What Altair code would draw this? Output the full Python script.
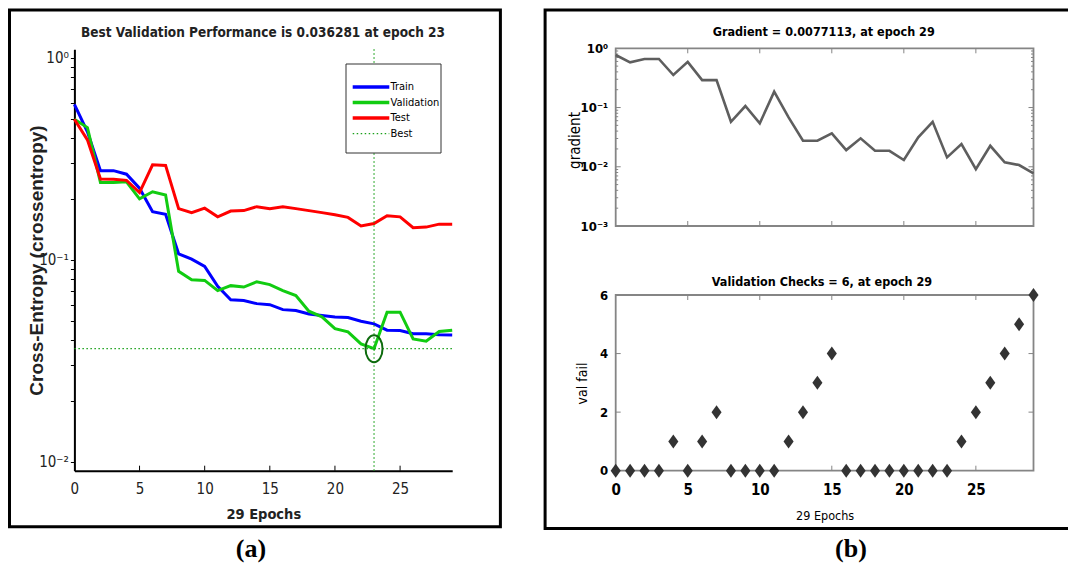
import altair as alt
import pandas as pd

# ---------------- data ----------------
epochs = list(range(30))
train = [0.588, 0.43, 0.276, 0.276, 0.265, 0.226, 0.173, 0.168, 0.107, 0.1007,
         0.0927, 0.0738, 0.0634, 0.0628, 0.0606, 0.0599, 0.0566, 0.056, 0.0539, 0.053,
         0.0521, 0.0517, 0.0496, 0.0481, 0.0448, 0.0446, 0.0430, 0.0430, 0.0425, 0.0424]
validation = [0.496, 0.451, 0.241, 0.241, 0.243, 0.200, 0.217, 0.209, 0.0876, 0.0796,
              0.079, 0.0703, 0.0744, 0.0732, 0.0778, 0.0753, 0.0703, 0.0664, 0.0556, 0.0521,
              0.0456, 0.0439, 0.0383, 0.036281, 0.0549, 0.055, 0.0405, 0.0395, 0.0441, 0.0448]
test = [0.496, 0.392, 0.251, 0.25, 0.247, 0.215, 0.295, 0.293, 0.179, 0.171,
        0.180, 0.163, 0.174, 0.175, 0.183, 0.179, 0.183, 0.179, 0.175, 0.171,
        0.167, 0.162, 0.147, 0.151, 0.165, 0.163, 0.144, 0.145, 0.150, 0.150]
series_names = ["Train", "Validation", "Test", "Best"]
series_colors = ["#0000ff", "#11cc11", "#ff0000", "#1aa01a"]
best_epoch = 23
best_value = 0.036281

gradient = [0.77, 0.58, 0.66, 0.66, 0.354, 0.59, 0.29, 0.29, 0.0575, 0.106,
            0.054, 0.185, 0.068, 0.0275, 0.0275, 0.0366, 0.0191, 0.0302, 0.0186, 0.0186,
            0.013, 0.0314, 0.0575, 0.0144, 0.0242, 0.0091, 0.0226, 0.0119, 0.0107, 0.0077113]
val_fail = [0, 0, 0, 0, 1, 0, 1, 2, 0, 0, 0, 0, 1, 2, 3, 4, 0, 0, 0, 0,
            0, 0, 0, 0, 1, 2, 3, 4, 5, 6]

x_tick_values = [0, 5, 10, 15, 20, 25]
inner_x_ticks = [5, 10, 15, 20, 25]
perf_ticks = [round(k * 10 ** p, 4) for p in (-2, -1) for k in range(1, 10)] + [1.0]
grad_major_inner = [0.01, 0.1]
grad_minor = [round(k * 10 ** p, 5) for p in (-3, -2, -1) for k in range(2, 10)]
grad_label_values = [0.001, 0.01, 0.1, 1.0]
val_ticks = [0, 2, 4, 6]
val_inner_ticks = [2, 4]

# ---------------- layout ----------------
W, H = 1060, 558
NARROW = "Liberation Sans Narrow, DejaVu Sans Condensed, sans-serif"
SANS = "Liberation Sans, Arial, sans-serif"
SERIF = "Liberation Serif, Times New Roman, serif"

L_LO, L_HI = 0.009024, 1.1006
L_X = alt.Scale(domain=[0, 29], range=[66.4, 444.2], nice=False, zero=False)
L_Y = alt.Scale(type="log", domain=[L_LO, L_HI], range=[462.7, 41.3], nice=False)
R_X = alt.Scale(domain=[0, 29], range=[607.7, 1025.5], nice=False, zero=False)
G_Y = alt.Scale(type="log", domain=[0.001, 1], range=[218, 40.3], nice=False)
V_Y = alt.Scale(domain=[0, 6], range=[462.7, 287], nice=False, zero=False)
COLOR = alt.Scale(domain=series_names, range=series_colors)

perf_label = ("datum.value === 1 ? '10⁰' : datum.value === 0.1 ? '10⁻¹' : "
              "datum.value === 0.01 ? '10⁻²' : ''")
grad_label = ("datum.value === 1 ? '10⁰' : datum.value === 0.1 ? '10⁻¹' : "
              "datum.value === 0.01 ? '10⁻²' : datum.value === 0.001 ? '10⁻³' : ''")

# ---------- panel (a): performance ----------
lx = alt.X("epoch:Q", scale=L_X, axis=alt.Axis(
    orient="bottom", offset=462.7 - H, values=x_tick_values, ticks=False, tickSize=0,
    domain=True, domainColor="black", domainWidth=2, grid=False,
    labelFont=NARROW, labelFontSize=15, labelColor="#222", labelPadding=11, labelFlush=False,
    title="29 Epochs", titleFont=NARROW, titleFontSize=14.5, titleFontWeight="bold",
    titleColor="#222", titleY=43.3, titleBaseline="middle"))
ly = alt.Y("value:Q", scale=L_Y, axis=alt.Axis(
    orient="left", offset=-66.4, values=perf_ticks, labelExpr=perf_label,
    ticks=True, tickSize=4, tickColor="black", tickWidth=1,
    domain=True, domainColor="black", domainWidth=2, grid=False,
    labelFont=NARROW, labelFontSize=15, labelColor="#222", labelPadding=2, labelOverlap=False,
    title="Cross-Entropy  (crossentropy)", titleFont=SANS, titleFontSize=19,
    titleFontWeight="bold", titleColor="#222", titleX=-38.4, titleY=252,
    titleBaseline="middle", titleAlign="center"))
color_enc = alt.Color("series:N", scale=COLOR, legend=None)

perf_rows = []
for name, arr in zip(series_names[:3], [train, validation, test]):
    for e, v in zip(epochs, arr):
        perf_rows.append({"epoch": e, "value": v, "series": name})
perf_df = pd.DataFrame(perf_rows)

lines = alt.Chart(perf_df).mark_line(strokeWidth=3).encode(x=lx, y=ly, color=color_enc)
best_v = alt.Chart(pd.DataFrame({"epoch": [best_epoch], "value": [L_HI], "value2": [L_LO],
                                 "series": ["Best"]})).mark_rule(
    strokeDash=[1.5, 2.5], strokeWidth=1.2).encode(x=lx, y=ly, y2="value2:Q", color=color_enc)
best_h = alt.Chart(pd.DataFrame({"epoch": [0], "epoch2": [29], "value": [best_value],
                                 "series": ["Best"]})).mark_rule(
    strokeDash=[1.5, 2.5], strokeWidth=1.2).encode(x=lx, x2="epoch2:Q", y=ly, color=color_enc)
ELLIPSE = "M0,-1A0.63,1,0,1,1,0,1A0.63,1,0,1,1,0,-1Z"
best_pt = alt.Chart(pd.DataFrame({"epoch": [best_epoch], "value": [best_value]})).mark_point(
    shape=ELLIPSE, size=729, filled=False, color="#0d6b0d", strokeWidth=2, opacity=1
).encode(x=lx, y=ly)
l_ticks = alt.Chart(pd.DataFrame({"epoch": inner_x_ticks, "value": [L_LO] * 5,
                                  "value2": [L_LO] * 5})).mark_rule(
    color="black", strokeWidth=1, y2Offset=-5).encode(x=lx, y=ly, y2="value2:Q")

panel_a = alt.layer(lines, best_v, best_h, best_pt, l_ticks)

# legend of panel (a): rows placed by a point scale over the series names
LEG_Y = alt.Scale(domain=series_names, range=[71.3, 133.4])
leg_df = pd.DataFrame({"series": series_names})
leg_y = alt.Y("series:N", scale=LEG_Y, axis=None)
leg_box = alt.Chart(pd.DataFrame({"b": [0]})).mark_rect(
    fill="white", stroke="#333", strokeWidth=1).encode(
    x=alt.value(338), x2=alt.value(433), y=alt.value(56), y2=alt.value(145))
leg_solid = alt.Chart(leg_df.iloc[:3]).mark_rule(strokeWidth=3.5).encode(
    x=alt.value(344.7), x2=alt.value(381.3), y=leg_y, color=alt.Color("series:N", scale=COLOR, legend=None))
leg_best = alt.Chart(leg_df.iloc[3:]).mark_rule(strokeWidth=1.2, strokeDash=[1.5, 2.5]).encode(
    x=alt.value(344.7), x2=alt.value(381.3), y=leg_y, color=alt.Color("series:N", scale=COLOR, legend=None))
leg_text = alt.Chart(leg_df).mark_text(font=NARROW, fontSize=11, color="black", align="left",
                                       baseline="middle").encode(
    x=alt.value(382.5), y=leg_y, text="series:N")
legend = alt.layer(leg_box, leg_solid, leg_best, leg_text)

# ---------- panel (b) top: gradient ----------
FRAME = "#858585"
gx = alt.X("epoch:Q", scale=R_X, axis=None)
gy = alt.Y("value:Q", scale=G_Y, axis=alt.Axis(
    orient="left", offset=-607.7, values=grad_label_values, labelExpr=grad_label,
    ticks=False, tickSize=0, domain=False, grid=False,
    labelFont=NARROW, labelFontSize=13, labelFontWeight="bold", labelColor="black",
    labelPadding=8, labelOverlap=False,
    title="gradient", titleFont=NARROW, titleFontSize=15, titleFontWeight="normal",
    titleColor="black", titleX=-41.5, titleY=132, titleBaseline="middle", titleAlign="center"))


def xticks(xe, ye, xs, at, length, color=FRAME):
    df = pd.DataFrame({"epoch": xs, "value": [at] * len(xs), "value2": [at] * len(xs)})
    return alt.Chart(df).mark_rule(color=color, strokeWidth=1, y2Offset=length).encode(
        x=xe, y=ye, y2="value2:Q")


def yticks(xe, ye, ys, at, length, color=FRAME):
    df = pd.DataFrame({"epoch": [at] * len(ys), "epoch2": [at] * len(ys), "value": ys})
    return alt.Chart(df).mark_rule(color=color, strokeWidth=1, x2Offset=length).encode(
        x=xe, x2="epoch2:Q", y=ye)


grad_df = pd.DataFrame({"epoch": epochs, "value": gradient})
grad_line = alt.Chart(grad_df).mark_line(color="#5e5e5e", strokeWidth=2.6).encode(x=gx, y=gy)
grad_frame = alt.Chart(pd.DataFrame({"epoch": [0], "epoch2": [29], "value": [0.001],
                                     "value2": [1.0]})).mark_rect(
    filled=False, stroke=FRAME, strokeWidth=1.8).encode(x=gx, x2="epoch2:Q", y=gy, y2="value2:Q")
panel_g = alt.layer(
    grad_frame,
    xticks(gx, gy, inner_x_ticks, 0.001, -5), xticks(gx, gy, inner_x_ticks, 1.0, 5),
    yticks(gx, gy, grad_major_inner, 0, 5), yticks(gx, gy, grad_major_inner, 29, -5),
    yticks(gx, gy, grad_minor, 0, 2.5), yticks(gx, gy, grad_minor, 29, -2.5),
    grad_line)

# ---------- panel (b) bottom: validation checks ----------
vx = alt.X("epoch:Q", scale=R_X, axis=alt.Axis(
    orient="bottom", offset=462.7 - H, values=x_tick_values, ticks=False, tickSize=0,
    domain=False, grid=False,
    labelFont=NARROW, labelFontSize=15, labelFontWeight="bold", labelColor="black",
    labelPadding=12, labelFlush=False,
    title="29 Epochs", titleFont=NARROW, titleFontSize=12.5, titleFontWeight="normal",
    titleColor="black", titleY=44.3, titleBaseline="middle"))
vy = alt.Y("value:Q", scale=V_Y, axis=alt.Axis(
    orient="left", offset=-607.7, values=val_ticks, ticks=False, tickSize=0, domain=False,
    grid=False, labelFont=NARROW, labelFontSize=13, labelFontWeight="bold",
    labelColor="black", labelPadding=8,
    title="val fail", titleFont=NARROW, titleFontSize=14, titleFontWeight="normal",
    titleColor="black", titleX=-33, titleY=375, titleBaseline="middle", titleAlign="center"))

DIAMOND = "M0,-1L0.72,0L0,1L-0.72,0Z"
val_df = pd.DataFrame({"epoch": epochs, "value": val_fail})
val_pts = alt.Chart(val_df).mark_point(shape=DIAMOND, size=196, filled=True, color="#333333",
                                       opacity=1).encode(x=vx, y=vy)
val_frame = alt.Chart(pd.DataFrame({"epoch": [0], "epoch2": [29], "value": [0],
                                    "value2": [6]})).mark_rect(
    filled=False, stroke=FRAME, strokeWidth=1.8).encode(x=vx, x2="epoch2:Q", y=vy, y2="value2:Q")
panel_v = alt.layer(
    val_frame,
    xticks(vx, vy, inner_x_ticks, 0, -5), xticks(vx, vy, inner_x_ticks, 6, 5),
    yticks(vx, vy, val_inner_ticks, 0, 5), yticks(vx, vy, val_inner_ticks, 29, -5),
    val_pts)

# ---------- decorations: boxes, titles, captions ----------
def text(txt, x, y, size, font=NARROW, weight="bold", color="black"):
    return alt.Chart(pd.DataFrame({"t": [txt]})).mark_text(
        font=font, fontSize=size, fontWeight=weight, color=color, align="center",
        baseline="middle").encode(x=alt.value(x), y=alt.value(y), text="t:N")


def box(x1, x2, y1, y2):
    return alt.Chart(pd.DataFrame({"b": [0]})).mark_rect(
        filled=False, stroke="black", strokeWidth=3).encode(
        x=alt.value(x1), x2=alt.value(x2), y=alt.value(y1), y2=alt.value(y2))


decor = alt.layer(
    box(1.5, 492.4, 2, 518.7),
    box(537.1, 1080, 2, 520.5),
    text(f"Best Validation Performance is {best_value} at epoch {best_epoch}", 255, 25, 13.5,
         color="#222"),
    text("Gradient = 0.0077113, at epoch 29", 815.7, 23.7, 12.5),
    text("Validation Checks = 6, at epoch 29", 814, 273.7, 12.5),
    text("(a)", 243, 541, 26, font=SERIF),
    text("(b)", 843, 541, 26, font=SERIF),
)

chart = alt.layer(panel_a, legend, panel_g, panel_v, decor).resolve_scale(
    x="independent", y="independent"
).resolve_axis(x="independent", y="independent").properties(
    width=W, height=H, autosize=alt.AutoSizeParams(type="none"), padding=0,
    background="white"
).configure_view(strokeWidth=0)

chart.save("out.html", embed_options={"renderer": "svg", "actions": False})
